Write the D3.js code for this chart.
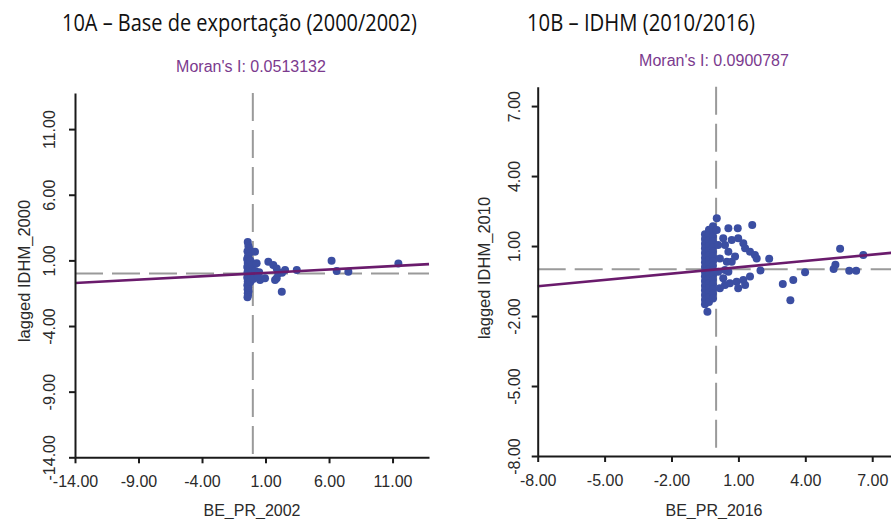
<!DOCTYPE html>
<html><head><meta charset="utf-8">
<script src="https://cdn.jsdelivr.net/npm/d3@7"></script>
<style>body{margin:0;background:#fff}svg{display:block}</style>
</head><body>
<svg id="c" width="891" height="519"></svg>
<script>
// ---------- data ----------
const titleA = "10A – Base de exportação (2000/2002)";
const titleB = "10B – IDHM (2010/2016)";
const moranA = 0.0513132;
const moranB = 0.0900787;
const xLabelA = "BE_PR_2002", yLabelA = "lagged IDHM_2000";
const xLabelB = "BE_PR_2016", yLabelB = "lagged IDHM_2010";
const ticksA = [-14, -9, -4, 1, 6, 11];
const ticksB = [-8, -5, -2, 1, 4, 7];
const domainXA = [-14, 13.87], domainYA = [-14, 13.75];
const domainXB = [-8, 7.95], domainYB = [-8, 7.83];

// panel A points [x, lagged y]
const pointsA = [
  [-0.4,2.4],[-0.35,2.1],[-0.3,1.9],[-0.42,1.7],[-0.3,1.5],[-0.38,1.3],[-0.45,1.1],[-0.32,0.95],
  [-0.4,0.8],[-0.28,0.65],[-0.44,0.5],[-0.35,0.35],[-0.3,0.2],[-0.42,0.1],[-0.36,-0.05],[-0.28,-0.15],
  [-0.44,-0.3],[-0.33,-0.45],[-0.4,-0.6],[-0.3,-0.75],[-0.43,-0.9],[-0.36,-1.05],[-0.41,-1.2],[-0.34,-1.35],
  [-0.4,-1.5],[-0.38,-1.65],[-0.42,-1.8],[-0.2,0.4],[-0.15,0.0],[-0.1,-0.3],[-0.2,1.0],[-0.18,-0.6],
  [-0.05,0.6],[0.0,0.2],[0.05,-0.4],
  [0.17,1.66],[0.3,0.78],[0.2,0.2],[0.5,0.1],[0.57,-0.5],[0.4,-0.2],[0.96,-0.37],[1.22,0.9],
  [1.61,0.65],[1.88,0.39],[2.0,0.01],[1.88,-0.37],[1.75,-0.5],[2.54,0.27],[2.3,0.05],[3.46,0.27],
  [2.28,-1.39],[6.2,0.97],[6.6,0.19],[7.52,0.14],[11.46,0.77]
];
// panel B points [x, lagged y]
const pointsB = [
  [-0.5,1.5],[-0.5,1.3],[-0.5,1.1],[-0.5,0.9],[-0.5,0.7],[-0.5,0.5],[-0.5,0.3],[-0.5,0.1],
  [-0.5,-0.1],[-0.5,-0.3],[-0.5,-0.5],[-0.5,-0.7],[-0.5,-0.9],[-0.5,-1.1],[-0.5,-1.3],[-0.5,-1.5],
  [-0.32,1.7],[-0.32,1.45],[-0.32,1.25],[-0.32,1.0],[-0.32,0.8],[-0.32,0.6],[-0.32,0.4],[-0.32,0.2],
  [-0.32,0.0],[-0.32,-0.2],[-0.32,-0.4],[-0.32,-0.6],[-0.32,-0.8],[-0.32,-1.0],[-0.32,-1.2],[-0.32,-1.4],
  [-0.14,1.85],[-0.14,1.6],[-0.14,1.4],[-0.14,1.2],[-0.14,0.95],[-0.14,0.75],[-0.14,0.55],[-0.14,0.35],
  [-0.14,0.15],[-0.14,-0.05],[-0.14,-0.25],[-0.14,-0.45],[-0.14,-0.65],[-0.14,-0.85],[-0.14,-1.05],[-0.14,-1.25],
  [-0.39,-1.82],
  [0.03,2.19],[0.03,1.69],[0.55,1.76],[0.97,1.76],[1.62,1.9],[0.32,1.33],[0.7,1.26],[0.4,1.04],
  [0.99,1.33],[1.22,1.12],[1.3,0.9],[1.52,0.76],[1.74,0.62],[1.82,0.47],[2.38,0.45],[1.99,-0.05],
  [0.55,0.76],[0.48,0.33],[0.4,-0.03],[0.32,-0.38],[0.4,-0.67],[0.62,-0.6],[0.92,-0.53],[1.22,-0.46],
  [1.52,-0.31],[0.99,-0.81],[1.3,-0.67],[0.17,-0.81],[0.09,1.04],[0.17,0.47],[0.09,-0.1],[0.7,0.33],
  [0.85,0.55],[0.55,-0.1],
  [2.99,-0.63],[3.33,-1.32],[3.46,-0.46],[3.99,-0.12],[5.27,0.02],[5.35,0.2],[5.56,0.88],[5.97,-0.06],
  [6.28,-0.06],[6.6,0.62]
];

// ---------- drawing ----------
const svg = d3.select("#c");
const FONT = "'Liberation Sans', Arial, sans-serif";
const PURPLE_TXT = "#7b3a8e", PURPLE_LINE = "#6a1b6c", DOT = "#3b4ea2", DASH = "#9a9a9a";
const fmt = d => d.toFixed(2);

function title(txt, x0, targetW) {
  const t = svg.append("text").attr("y", 31.5).text(txt)
    .attr("font-family", "'Open Sans', sans-serif").attr("font-size", 23.5).attr("fill", "#111");
  const w = t.node().getComputedTextLength();
  const k = targetW / w;
  t.attr("transform", `translate(${x0},0) scale(${k},1)`).attr("x", 0);
}
title(titleA, 62, 355);
title(titleB, 527, 228);

function panel(cfg) {
  const x = d3.scaleLinear().domain(cfg.dx).range(cfg.rx);
  const y = d3.scaleLinear().domain(cfg.dy).range(cfg.ry);
  const g = svg.append("g");

  // Moran text
  g.append("text").attr("x", cfg.mx).attr("y", cfg.my).attr("text-anchor", "middle")
    .attr("font-family", FONT).attr("font-size", 16).attr("fill", PURPLE_TXT)
    .text("Moran's I: " + cfg.moran);

  // dashed reference lines at 0
  g.append("line").attr("x1", x(0)).attr("x2", x(0)).attr("y1", y(cfg.dy[1])).attr("y2", y(cfg.dy[0]))
    .attr("stroke", DASH).attr("stroke-width", 2).attr("stroke-dasharray", "28,9");
  g.append("line").attr("x1", x(cfg.dx[0])).attr("x2", x(cfg.dx[1])).attr("y1", y(0)).attr("y2", y(0))
    .attr("stroke", DASH).attr("stroke-width", 2).attr("stroke-dasharray", "28,9");

  // points
  g.selectAll("circle.pt").data(cfg.pts).join("circle").attr("class", "pt")
    .attr("cx", d => x(d[0])).attr("cy", d => y(d[1])).attr("r", 4).attr("fill", DOT);

  // regression line (slope = Moran's I)
  g.append("line").attr("x1", x(cfg.dx[0])).attr("y1", y(cfg.moran * cfg.dx[0]))
    .attr("x2", x(cfg.dx[1])).attr("y2", y(cfg.moran * cfg.dx[1]))
    .attr("stroke", PURPLE_LINE).attr("stroke-width", 2.6);

  // axes
  const ax = g.append("g").attr("transform", `translate(0,${cfg.ry[0]})`)
    .call(d3.axisBottom(x).tickValues(cfg.ticks).tickFormat(fmt).tickSize(6).tickSizeOuter(0));
  ax.selectAll("text").attr("y", 30).attr("dy", 0).attr("font-size", 16).attr("font-family", FONT).attr("fill", "#2a2a2a");
  const ay = g.append("g").attr("transform", `translate(${cfg.rx[0]},0)`)
    .call(d3.axisLeft(y).tickValues(cfg.ticks).tickFormat(fmt).tickSize(6).tickSizeOuter(0));
  ay.selectAll("text").attr("transform", "rotate(-90)").attr("x", 0).attr("y", -cfg.ylOff).attr("dy", 0)
    .attr("text-anchor", "middle").attr("font-size", 16).attr("font-family", FONT).attr("fill", "#2a2a2a");
  [ax, ay].forEach(a => {
    a.select(".domain").attr("stroke", "#1a1a1a").attr("stroke-width", 2);
    a.selectAll(".tick line").attr("stroke", "#1a1a1a").attr("stroke-width", 2);
  });

  // axis titles
  g.append("text").attr("x", cfg.xtx).attr("y", 516).attr("text-anchor", "middle")
    .attr("font-family", FONT).attr("font-size", 16).attr("fill", "#2a2a2a").text(cfg.xl);
  g.append("text").attr("transform", `translate(${cfg.ytx},${cfg.yty}) rotate(-90)`).attr("text-anchor", "middle")
    .attr("font-family", FONT).attr("font-size", 16.5).attr("fill", "#2a2a2a").text(cfg.yl);
}

panel({dx: domainXA, dy: domainYA, rx: [75, 429], ry: [457.3, 93], pts: pointsA, moran: moranA,
  ticks: ticksA, mx: 251, my: 72, xl: xLabelA, yl: yLabelA, xtx: 252, ytx: 30, yty: 271, ylOff: 20});
panel({dx: domainXB, dy: domainYB, rx: [537.7, 893.4], ry: [456, 86.7], pts: pointsB, moran: moranB,
  ticks: ticksB, mx: 714, my: 66, xl: xLabelB, yl: yLabelB, xtx: 714, ytx: 490, yty: 268, ylOff: 17.5});
</script>
</body></html>
